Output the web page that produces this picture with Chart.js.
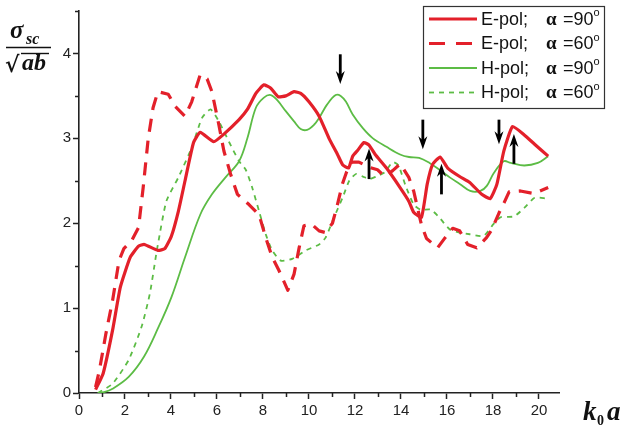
<!DOCTYPE html>
<html><head><meta charset="utf-8">
<script src="https://cdn.jsdelivr.net/npm/chart.js@4.4.1/dist/chart.umd.min.js"></script>
<style>html,body{margin:0;padding:0;background:#fff;}#wrap{width:629px;height:427px;}</style>
</head><body><div id="wrap"><canvas id="c" width="629" height="427"></canvas></div>
<script>
// ---- data (k0a on x, sigma_sc/sqrt(ab) on y) ----
const ePol90X = [0.72,1.05,1.46,1.80,2.23,2.59,2.84,3.43,3.73,4.02,4.32,4.61,4.98,5.27,5.86,6.30,6.96,7.32,7.69,8.04,8.34,8.66,8.99,9.35,9.64,10.00,10.44,10.87,11.24,11.46,11.72,11.90,12.12,12.39,12.61,12.88,13.37,13.96,14.34,14.55,14.89,15.14,15.37,15.70,16.03,16.55,16.99,17.51,17.88,18.17,18.47,18.85,19.36,19.81,20.40];
const ePol90Y = [0.04,0.23,0.74,1.25,1.60,1.73,1.75,1.68,1.70,1.85,2.14,2.50,2.95,3.07,2.96,3.05,3.22,3.34,3.53,3.63,3.59,3.49,3.50,3.55,3.53,3.43,3.26,3.00,2.81,2.69,2.65,2.79,2.86,2.95,2.92,2.81,2.65,2.42,2.26,2.13,2.07,2.46,2.69,2.78,2.65,2.55,2.48,2.34,2.29,2.46,2.85,3.14,3.04,2.93,2.79];

const ePol60X = [0.72,0.89,1.17,1.46,1.74,1.95,2.30,2.59,2.79,3.01,3.22,3.43,3.88,4.17,4.61,4.90,5.27,5.57,5.78,6.08,6.30,6.60,6.89,7.39,7.83,8.12,8.40,8.70,9.08,9.35,9.57,9.78,10.11,10.44,10.71,11.02,11.22,11.45,11.63,11.85,12.17,12.61,12.98,13.29,13.64,13.97,14.34,14.55,14.89,15.11,15.59,15.92,16.25,16.55,16.90,17.29,17.72,17.94,18.26,18.48,18.70,19.19,19.78,20.40];
const ePol60Y = [0.07,0.27,0.70,1.09,1.56,1.70,1.80,1.95,2.42,3.00,3.36,3.55,3.52,3.38,3.26,3.43,3.75,3.70,3.55,3.16,2.85,2.57,2.34,2.22,2.10,1.83,1.60,1.44,1.21,1.40,1.71,1.97,1.99,1.91,1.89,2.00,2.20,2.46,2.60,2.72,2.72,2.66,2.63,2.55,2.62,2.70,2.54,2.38,1.98,1.82,1.71,1.83,1.94,1.91,1.75,1.71,1.83,1.92,2.12,2.24,2.37,2.38,2.35,2.42];

const hPol90X = [0.82,1.09,1.46,2.16,2.83,3.43,4.02,4.61,5.27,5.78,6.37,6.96,7.32,7.69,8.04,8.34,8.62,8.99,9.35,9.64,9.92,10.22,10.44,10.79,11.16,11.38,11.61,11.90,12.34,12.78,13.37,13.96,14.35,14.79,15.24,15.67,16.12,16.57,17.01,17.45,17.73,18.03,18.47,18.77,19.36,19.95,20.40];
const hPol90Y = [0.00,0.01,0.05,0.19,0.43,0.76,1.13,1.60,2.10,2.34,2.54,2.73,3.00,3.36,3.48,3.51,3.45,3.32,3.20,3.11,3.10,3.16,3.24,3.40,3.51,3.50,3.43,3.28,3.12,3.00,2.90,2.81,2.78,2.77,2.71,2.63,2.54,2.46,2.38,2.38,2.44,2.59,2.73,2.71,2.68,2.71,2.79];

const hPol60X = [0.82,1.46,2.16,2.72,3.08,3.36,3.43,3.80,4.32,4.90,5.35,5.72,6.08,6.52,6.96,7.25,7.53,7.83,8.12,8.40,8.77,9.27,9.86,10.44,10.72,11.09,11.46,11.75,12.04,12.34,12.63,12.92,13.29,13.64,13.89,14.19,14.55,14.85,15.29,15.66,16.11,16.55,16.99,17.59,17.96,18.33,18.91,19.36,19.81,20.33];
const hPol60Y = [0.00,0.11,0.39,0.78,1.17,1.64,1.75,2.26,2.54,2.89,3.24,3.34,3.20,2.96,2.73,2.63,2.42,2.14,1.87,1.68,1.56,1.58,1.68,1.75,1.83,2.07,2.30,2.50,2.58,2.55,2.52,2.55,2.60,2.72,2.68,2.45,2.22,2.16,2.16,2.07,1.93,1.89,1.87,1.85,1.97,2.07,2.08,2.18,2.30,2.29];

const seriesPol = ['E-pol;', 'E-pol;', 'H-pol;', 'H-pol;'];
const seriesAngle = ['90', '60', '90', '60'];

const xTickLabels = [0,2,4,6,8,10,12,14,16,18,20];
const xMinorTicks = [1,3,5,7,9,11,13,15,17,19];
const yTickLabels = [0,1,2,3,4];
const yMinorTicks = [0.5,1.5,2.5,3.5,4.5];

// resonance arrows: x position, tail value, head value
const arrowX    = [11.36, 12.61, 14.95, 15.76, 18.26, 18.91];
const arrowTail = [3.99, 2.52, 3.22, 2.34, 3.22, 2.70];
const arrowHead = [3.64, 2.88, 2.87, 2.70, 2.93, 3.05];

// ---- build ----
const RED = '#e3202a', GREEN = '#5cbc45';
function pts(xs, ys){ return xs.map((x,i)=>({x:x, y:ys[i]})); }
const styles = [
  {color: RED, width: 3.2, dash: [], tension: 0.15},
  {color: RED, width: 3.2, dash: [13,9], tension: 0},
  {color: GREEN, width: 1.8, dash: [], tension: 0.35},
  {color: GREEN, width: 1.8, dash: [5,5], tension: 0.2}
];
const seriesData = [pts(ePol90X,ePol90Y), pts(ePol60X,ePol60Y), pts(hPol90X,hPol90Y), pts(hPol60X,hPol60Y)];
const datasets = seriesData.map((d,i)=>({
  label: seriesPol[i] + ' \u03b1 =' + seriesAngle[i] + '\u00b0',
  data: d, borderColor: styles[i].color, borderWidth: styles[i].width,
  borderDash: styles[i].dash, tension: styles[i].tension, pointRadius: 0, fill: false,
  borderCapStyle: 'butt', borderJoinStyle: 'round'
}));

const LEFT = 79, TOP = 9, BOTTOM = 393, RIGHT = 559;
const AXC = '#222';

const decor = {
  id: 'decor',
  afterDraw(chart){
    const ctx = chart.ctx, xs = chart.scales.x, ys = chart.scales.y;
    ctx.save();
    // minor ticks
    ctx.strokeStyle = AXC; ctx.lineWidth = 1.5;
    ctx.beginPath();
    xMinorTicks.forEach(v=>{ const p = Math.round(xs.getPixelForValue(v))+0.5; ctx.moveTo(p, BOTTOM); ctx.lineTo(p, BOTTOM+4); });
    yMinorTicks.forEach(v=>{ const p = Math.round(ys.getPixelForValue(v))+0.5; ctx.moveTo(LEFT, p); ctx.lineTo(LEFT-4, p); });
    ctx.stroke();

    // arrows
    ctx.fillStyle = '#000'; ctx.strokeStyle = '#000';
    arrowX.forEach((v,i)=>{
      const px = xs.getPixelForValue(v);
      const yt = ys.getPixelForValue(arrowTail[i]);
      const yh = ys.getPixelForValue(arrowHead[i]);
      const dir = yh > yt ? 1 : -1;
      ctx.lineWidth = 2.8;
      ctx.beginPath(); ctx.moveTo(px, yt); ctx.lineTo(px, yh - dir*8); ctx.stroke();
      ctx.beginPath(); ctx.moveTo(px, yh); ctx.lineTo(px-4.5, yh - dir*13); ctx.lineTo(px, yh - dir*9); ctx.lineTo(px+4.5, yh - dir*13); ctx.closePath(); ctx.fill();
    });

    // y title: sigma_sc / sqrt(ab)
    ctx.fillStyle = '#111';
    ctx.textBaseline = 'alphabetic'; ctx.textAlign = 'left';
    ctx.font = 'bold italic 25px "Liberation Serif"';
    ctx.fillText('\u03c3', 10, 38);
    ctx.font = 'bold italic 16px "Liberation Serif"';
    ctx.fillText('sc', 26, 44);
    ctx.lineWidth = 1.4; ctx.strokeStyle = '#111';
    ctx.beginPath(); ctx.moveTo(6, 47.5); ctx.lineTo(51, 47.5); ctx.stroke();
    ctx.font = 'bold 22px "DejaVu Serif"';
    ctx.fillText('\u221a', 5, 72);
    ctx.font = 'bold italic 24px "Liberation Serif"';
    ctx.fillText('ab', 22, 70);
    ctx.beginPath(); ctx.moveTo(21, 53.5); ctx.lineTo(49, 53.5); ctx.stroke();

    // x title: k0a
    ctx.font = 'bold italic 27px "Liberation Serif"';
    ctx.fillText('k', 583, 420);
    ctx.font = 'bold 14px "Liberation Serif"';
    ctx.fillText('0', 597, 425);
    ctx.font = 'bold italic 27px "Liberation Serif"';
    ctx.fillText('a', 607, 420);

    // legend
    const bx = 423, by = 6, bw = 181, bh = 102;
    ctx.fillStyle = '#fff'; ctx.fillRect(bx, by, bw, bh);
    ctx.strokeStyle = '#333'; ctx.lineWidth = 1.2;
    ctx.strokeRect(bx+0.5, by+0.5, bw, bh);
    const rows = [19, 43.5, 68, 92.5];
    chart.data.datasets.forEach((ds,i)=>{
      const y = rows[i];
      ctx.strokeStyle = ds.borderColor; ctx.lineWidth = ds.borderWidth;
      ctx.setLineDash(i===1 ? [16,11] : (i===3 ? [5,5] : []));
      ctx.beginPath(); ctx.moveTo(429, y); ctx.lineTo(477, y); ctx.stroke();
      ctx.setLineDash([]);
      ctx.fillStyle = '#111'; ctx.textBaseline = 'middle';
      ctx.font = '18px "Liberation Sans"';
      ctx.fillText(seriesPol[i], 481, y+1);
      ctx.font = 'bold 19px "Liberation Serif"';
      ctx.fillText('\u03b1', 546, y+1);
      ctx.font = '18px "Liberation Sans"';
      const t = '=' + seriesAngle[i];
      ctx.fillText(t, 563, y+1);
      const w = ctx.measureText(t).width;
      ctx.font = '11px "Liberation Sans"';
      ctx.fillText('o', 563 + w, y-6);
    });
    ctx.restore();
  }
};

new Chart(document.getElementById('c'), {
  type: 'line',
  data: { datasets },
  options: {
    responsive: false, animation: false, devicePixelRatio: 1,
    layout: { padding: { left: 0, top: TOP, right: 629 - RIGHT, bottom: 0 } },
    plugins: { legend: { display: false }, tooltip: { enabled: false } },
    elements: { point: { radius: 0 } },
    scales: {
      x: {
        type: 'linear', min: 0, max: 20.87,
        afterBuildTicks: s => { s.ticks = xTickLabels.map(v => ({ value: v })); },
        afterFit: s => { s.height = 427 - BOTTOM; },
        ticks: { autoSkip: false, maxRotation: 0, padding: 3, color: '#222', font: { family: 'Liberation Sans', size: 15 } },
        grid: { drawOnChartArea: false, drawTicks: true, tickLength: 6, tickColor: AXC, tickWidth: 1.5 },
        border: { color: AXC, width: 1.6 }
      },
      y: {
        type: 'linear', min: 0, max: 4.5,
        afterBuildTicks: s => { s.ticks = yTickLabels.map(v => ({ value: v })); },
        afterFit: s => { s.width = LEFT; },
        ticks: { autoSkip: false, padding: 2, color: '#222', font: { family: 'Liberation Sans', size: 15 } },
        grid: { drawOnChartArea: false, drawTicks: true, tickLength: 6, tickColor: AXC, tickWidth: 1.5 },
        border: { color: AXC, width: 1.6 }
      }
    }
  },
  plugins: [decor]
});
</script></body></html>
